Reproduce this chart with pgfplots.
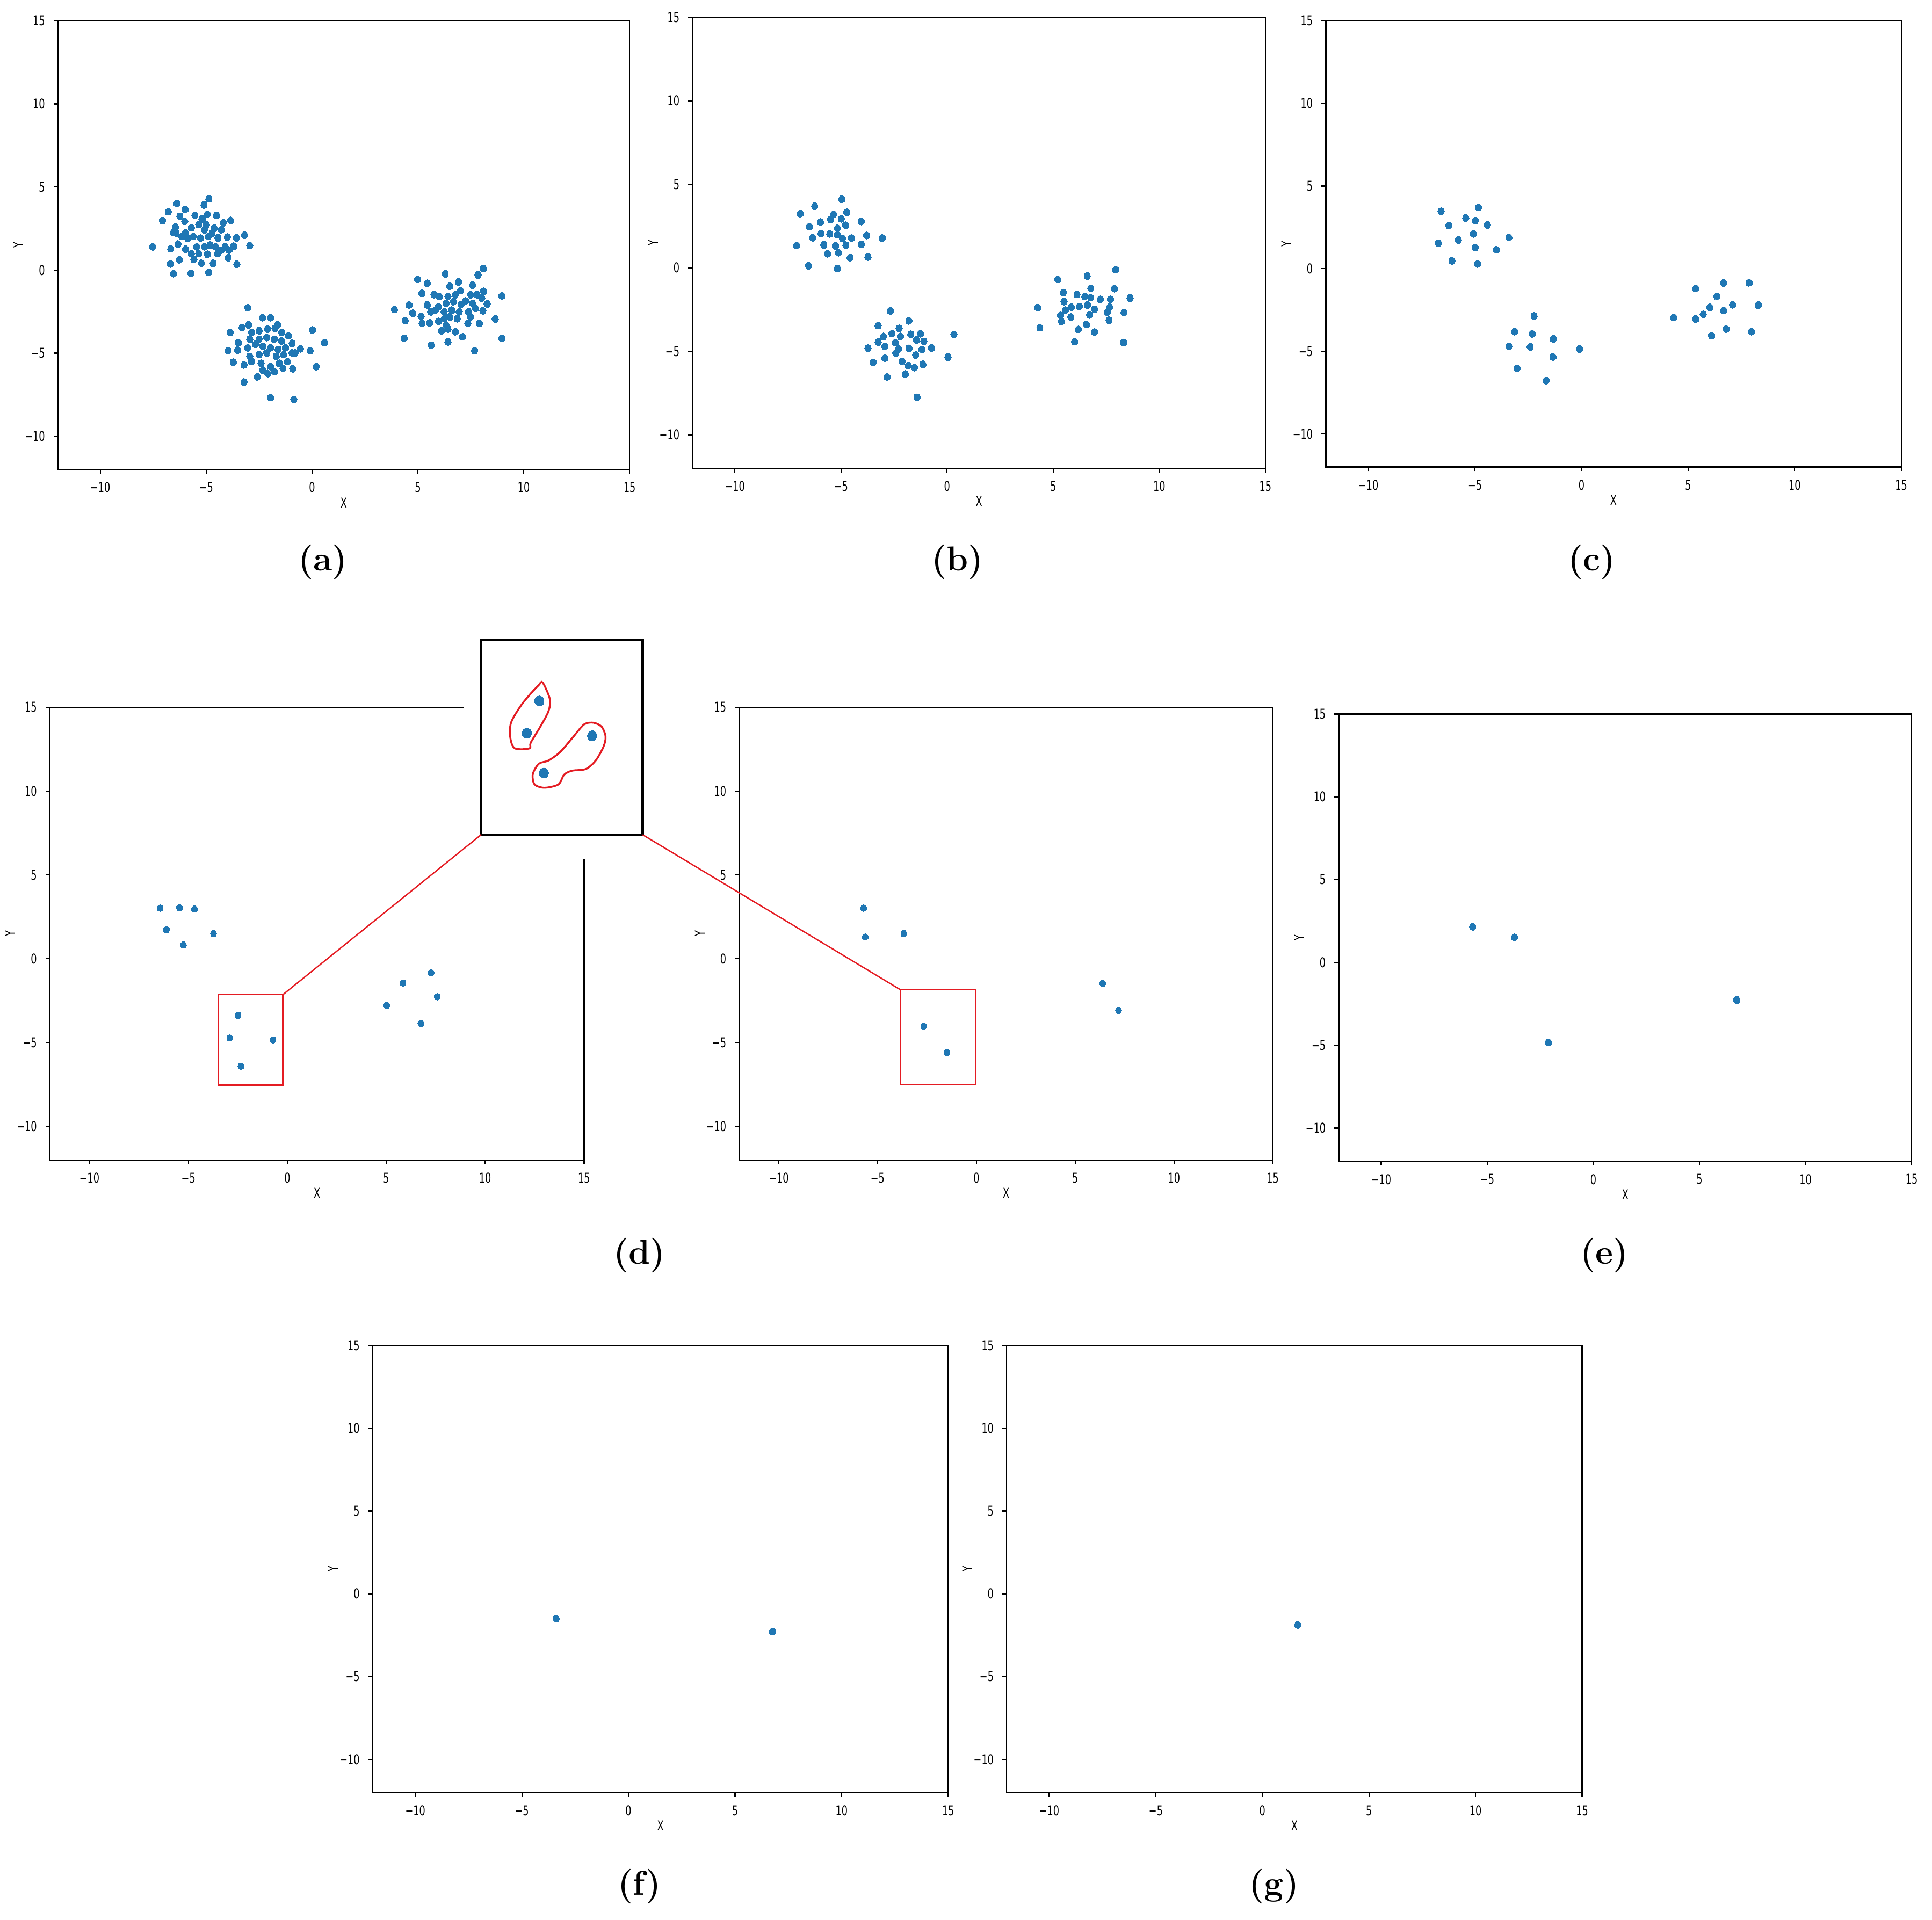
\documentclass[border=0pt]{standalone}
\usepackage{pgfplots}
\pgfplotsset{compat=1.18}
\usepackage{fontspec}
\newfontfamily\mpl[FakeStretch=0.7]{DejaVu Sans}
\definecolor{mplblue}{RGB}{31,119,180}
\definecolor{annot}{RGB}{228,28,35}

\pgfplotsset{
  panel/.style={
    scale only axis, anchor=south west,
    xmin=-12, xmax=15, ymin=-12, ymax=15,
    xtick={-10,-5,0,5,10,15}, xticklabels={−10,−5,0,5,10,15},
    ytick={-10,-5,0,5,10,15}, yticklabels={−10,−5,0,5,10,15},
    tick pos=left, tick align=outside, major tick length=1.75pt,
    axis line style={line width=0.5pt},
    every tick/.style={black, line width=0.5pt},
    tick label style={font=\mpl\fontsize{5.5}{6}\selectfont},
    xlabel={X}, ylabel={Y},
    every axis x label/.style={at={(axis description cs:0.5,0)}, yshift=-13.5pt,
      anchor=center, font=\mpl\fontsize{5.5}{6}\selectfont},
    every axis y label/.style={at={(axis description cs:0,0.5)}, xshift=-16pt,
      rotate=90, anchor=center, font=\mpl\fontsize{5.5}{6}\selectfont},
  },
  pts/.style={only marks, mark=*, mark size=1.45pt, color=mplblue,
    mark options={solid, draw=mplblue, fill=mplblue, line width=0pt, xscale=0.92}},
}
\tikzset{sub/.style={font=\fontsize{14}{16}\selectfont\bfseries}}

\begin{document}
\begin{tikzpicture}
\useasboundingbox (0,0) rectangle (784pt,779pt);

% (a)
\begin{axis}[panel, at={(23.5pt,588.5pt)}, width=232pt, height=182pt]
\addplot[pts] coordinates {
(-7.52,1.40) (-7.06,2.97) (-6.79,3.51) (-6.38,4.00) (-5.99,3.65) (-4.87,4.29)
(-5.10,3.92) (-4.51,3.30) (-3.85,2.99) (-3.19,2.10) (-2.94,1.48) (-3.57,1.94)
(-3.55,0.35) (-3.96,0.74) (-4.88,-0.14) (-5.72,-0.19) (-6.54,-0.21) (-6.68,0.37)
(-6.27,0.62) (-6.67,1.28) (-6.54,2.27) (-6.45,2.58) (-6.24,3.24) (-6.01,2.93)
(-5.53,3.30) (-5.20,3.09) (-4.94,3.36) (-4.19,2.85) (-4.28,2.43) (-4.62,2.52)
(-4.00,1.98) (-4.44,1.94) (-3.69,1.44) (-3.92,1.20) (-4.46,0.99) (-4.67,0.41)
(-5.22,0.41) (-5.58,0.64) (-5.97,1.26) (-6.33,1.57) (-5.97,2.23) (-5.70,2.54)
(-5.35,2.74) (-5.08,2.43) (-4.90,2.02) (-5.26,1.92) (-5.61,2.02) (-5.88,1.92)
(-5.44,1.40) (-5.08,1.40) (-4.81,1.51) (-5.35,0.99) (-4.94,0.95) (-4.55,1.40)
(-4.28,1.20) (-4.10,1.40) (-6.15,2.02) (-6.42,2.23) (-5.70,0.99) (-5.17,3.05)
(-4.99,2.74) (-4.72,2.23)
(-3.03,-2.27) (-2.34,-2.87) (-1.96,-2.87) (-2.99,-3.30) (-3.30,-3.46) (-3.87,-3.75)
(-1.62,-3.30) (0.02,-3.61) (0.59,-4.37) (-0.55,-4.74) (-0.09,-4.85) (0.20,-5.81)
(-0.91,-5.94) (-3.96,-4.85) (-3.72,-5.55) (-3.21,-6.74) (-2.58,-6.43) (-1.96,-7.67)
(-0.86,-7.79) (-3.48,-4.37) (-3.51,-4.82) (-3.21,-5.71) (-2.85,-5.51) (-2.41,-5.61)
(-2.09,-6.23) (-1.78,-6.12) (-1.37,-5.92) (-1.16,-5.51) (-0.94,-4.99) (-0.94,-4.41)
(-1.12,-3.96) (-1.43,-3.75) (-1.75,-3.51) (-2.10,-3.55) (-2.50,-3.65) (-2.85,-3.75)
(-2.94,-4.16) (-2.50,-4.16) (-2.14,-4.06) (-1.78,-4.16) (-1.43,-4.27) (-1.25,-4.68)
(-1.60,-4.78) (-1.96,-4.68) (-2.32,-4.58) (-2.67,-4.47) (-3.03,-4.68) (-2.94,-5.20)
(-2.50,-5.09) (-2.14,-4.99) (-1.69,-5.20) (-1.34,-5.09) (-1.96,-5.81) (-2.32,-6.02)
(-1.55,-5.61) (-0.80,-4.99)
(3.89,-2.37) (4.35,-4.10) (4.40,-3.05) (4.58,-2.10) (4.76,-2.60) (4.99,-0.56)
(5.44,-0.80) (5.19,-1.40) (5.63,-4.52) (5.15,-2.78) (5.20,-3.20) (5.56,-3.18)
(5.97,-3.09) (6.12,-3.65) (6.42,-4.33) (6.29,-0.23) (6.92,-0.72) (7.59,-0.91)
(7.84,-0.29) (8.09,0.10) (8.11,-1.28) (8.27,-2.04) (8.97,-1.55) (8.65,-2.95)
(8.97,-4.10) (7.68,-4.85) (7.11,-4.02) (7.90,-3.20) (7.36,-3.20) (6.77,-3.71)
(6.42,-3.55) (5.76,-1.48) (6.01,-1.59) (6.51,-0.97) (7.01,-1.24) (7.25,-1.86)
(7.49,-1.48) (7.79,-1.48) (8.02,-1.69) (8.07,-2.45) (7.72,-2.31) (7.40,-2.52)
(6.95,-2.52) (6.60,-2.41) (6.24,-2.52) (5.83,-2.41) (5.44,-2.10) (5.61,-2.52)
(5.97,-2.21) (6.33,-2.00) (6.68,-1.90) (6.42,-1.59) (6.77,-1.48) (7.04,-2.06)
(6.51,-2.82) (6.86,-2.93) (6.24,-2.93) (7.49,-2.82) (6.33,-3.34) (7.58,-2.00)
};
\end{axis}

% (b)
\begin{axis}[panel, at={(281pt,589pt)}, width=232.5pt, height=183pt]
\addplot[pts] coordinates {
(-7.09,1.33) (-6.92,3.24) (-6.24,3.69) (-6.49,2.46) (-6.33,1.80) (-5.97,2.73)
(-5.94,2.05) (-5.81,1.37) (-5.64,0.84) (-6.53,0.12) (-5.53,2.03) (-5.49,2.89)
(-5.35,3.20) (-5.17,2.36) (-5.17,1.97) (-5.26,1.31) (-5.12,0.90) (-5.17,-0.04)
(-4.99,2.93) (-4.96,4.10) (-4.73,3.32) (-4.78,2.54) (-4.93,1.76) (-4.77,1.35)
(-4.50,1.78) (-4.57,0.61) (-4.05,2.77) (-4.04,1.41) (-3.79,1.93) (-3.73,0.64)
(-3.06,1.78)
(-2.68,-2.58) (-3.25,-3.46) (-1.80,-3.18) (-2.26,-3.63) (-2.60,-3.95) (-3.00,-4.12)
(-3.25,-4.45) (-3.73,-4.82) (-2.93,-4.71) (-2.44,-4.49) (-2.20,-4.12) (-1.71,-3.98)
(-1.44,-4.32) (-1.26,-3.95) (-1.10,-4.41) (-0.73,-4.80) (-1.19,-4.90) (-1.48,-5.23)
(-1.80,-4.82) (-2.29,-4.86) (-2.42,-5.12) (-2.93,-5.41) (-3.49,-5.66) (-2.12,-5.61)
(-1.83,-5.86) (-1.53,-5.98) (-1.14,-5.78) (-1.97,-6.37) (-2.83,-6.54) (-1.42,-7.75)
(0.04,-5.35) (0.32,-4.00)
(4.27,-2.38) (4.37,-3.59) (5.21,-0.70) (5.48,-1.48) (5.51,-2.03) (5.57,-2.54)
(5.35,-2.85) (5.39,-3.22) (5.85,-2.36) (5.83,-2.95) (6.12,-1.60) (6.23,-2.32)
(6.01,-4.43) (6.19,-3.69) (6.56,-3.40) (6.72,-2.83) (6.61,-2.23) (6.49,-1.72)
(6.60,-0.49) (6.77,-1.23) (6.76,-1.78) (6.95,-2.48) (6.95,-3.85) (7.22,-1.89)
(7.54,-2.68) (7.63,-3.14) (7.66,-2.36) (7.70,-1.89) (7.88,-1.25) (7.95,-0.12)
(8.34,-2.68) (8.32,-4.47) (8.62,-1.82)
};
\end{axis}

% (c)
\begin{axis}[panel, at={(538pt,589.5pt)}, width=233.5pt, height=181pt]
\addplot[pts] coordinates {
(-6.59,3.48) (-6.22,2.61) (-6.72,1.55) (-5.78,1.74) (-6.08,0.48) (-5.43,3.07)
(-4.99,2.90) (-4.84,3.71) (-5.08,2.11) (-4.99,1.28) (-4.88,0.29) (-4.42,2.65)
(-4.00,1.14) (-3.41,1.89)
(-2.23,-2.86) (-3.13,-3.81) (-2.32,-3.94) (-1.33,-4.25) (-3.41,-4.70) (-2.41,-4.74)
(-0.09,-4.87) (-1.34,-5.34) (-3.02,-6.03) (-1.66,-6.77)
(4.33,-2.96) (5.36,-1.20) (5.36,-3.05) (5.71,-2.76) (6.02,-2.34) (6.35,-1.68)
(6.67,-0.87) (6.67,-2.53) (7.09,-2.18) (6.10,-4.06) (6.78,-3.65) (7.86,-0.85)
(7.97,-3.81) (8.29,-2.20)
};
\end{axis}

% (d) left
\begin{axis}[panel, at={(20.25pt,308.25pt)}, width=216.75pt, height=183.75pt]
\addplot[pts, mark size=1.35pt] coordinates {
(-6.43,3.02) (-5.45,3.04) (-4.69,2.96) (-6.11,1.73) (-5.25,0.82) (-3.73,1.49)
(-2.49,-3.37) (-2.91,-4.73) (-0.72,-4.84) (-2.34,-6.41)
(5.03,-2.78) (5.85,-1.45) (7.27,-0.84) (7.58,-2.27) (6.75,-3.86)
};
\draw[annot, line width=0.55pt] (axis cs:-3.5,-7.54) rectangle (axis cs:-0.23,-2.15);
\coordinate (dlc) at (axis cs:-0.23,-2.15);
\end{axis}
\fill[white] (188pt,430.5pt) rectangle (239pt,497pt);

% (d) right
\begin{axis}[panel, at={(300pt,308.25pt)}, width=216.5pt, height=183.75pt]
\addplot[pts, mark size=1.35pt] coordinates {
(-5.71,3.02) (-5.63,1.29) (-3.67,1.49) (-2.67,-4.02) (-1.50,-5.59)
(6.39,-1.47) (7.19,-3.08)
};
\draw[annot, line width=0.55pt] (axis cs:-3.83,-7.53) rectangle (axis cs:-0.04,-1.86);
\coordinate (drc) at (axis cs:-3.83,-1.86);
\end{axis}

% inset
\begin{axis}[scale only axis, anchor=south west, at={(195.25pt,440.25pt)},
  width=65.5pt, height=79pt, xmin=-4.44, xmax=0.97, ymin=-9.01, ymax=-0.80,
  xtick=\empty, ytick=\empty, axis line style={line width=1pt, black},
  axis background/.style={fill=white}]
\addplot[pts, mark size=2.1pt] coordinates {
(-2.49,-3.37) (-2.91,-4.73) (-0.72,-4.84) (-2.34,-6.41)
};
\draw[annot, line width=0.75pt] plot[smooth cycle, tension=0.5] coordinates {
(-2.38,-2.59) (-2.14,-3.28) (-2.18,-3.79) (-2.45,-4.44) (-2.78,-5.13) (-2.82,-5.37)
(-3.31,-5.37) (-3.46,-4.94) (-3.44,-4.29) (-3.11,-3.57) (-2.78,-3.06) (-2.51,-2.70)
};
\draw[annot, line width=0.75pt] plot[smooth cycle, tension=0.5] coordinates {
(-0.67,-4.29) (-0.40,-4.46) (-0.27,-4.87) (-0.34,-5.30) (-0.60,-5.88) (-0.93,-6.24)
(-1.39,-6.31) (-1.66,-6.48) (-1.85,-6.89) (-2.32,-7.03) (-2.65,-6.89) (-2.71,-6.46)
(-2.51,-6.02) (-2.18,-5.88) (-1.79,-5.52) (-1.39,-4.94) (-0.99,-4.36)
};
\coordinate (ibl) at (rel axis cs:0,0);
\coordinate (ibr) at (rel axis cs:1,0);
\end{axis}
\draw[annot, line width=0.55pt] (dlc) -- (ibl);
\draw[annot, line width=0.55pt] (ibr) -- (drc);

% (e)
\begin{axis}[panel, at={(543.25pt,307.75pt)}, width=232.5pt, height=181.5pt]
\addplot[pts] coordinates {
(-5.69,2.15) (-3.72,1.51) (-2.12,-4.83) (6.76,-2.27)
};
\end{axis}

% (f)
\begin{axis}[panel, at={(151.25pt,51.5pt)}, width=233.5pt, height=181.5pt]
\addplot[pts] coordinates {
(-3.40,-1.50) (6.76,-2.28)
};
\end{axis}

% (g)
\begin{axis}[panel, at={(408.5pt,51.5pt)}, width=233.5pt, height=181.5pt]
\addplot[pts] coordinates {
(1.66,-1.88)
};
\end{axis}

\node[sub] at (131pt,551pt) {(a)};
\node[sub] at (388.5pt,551pt) {(b)};
\node[sub] at (646pt,551pt) {(c)};
\node[sub] at (259.5pt,269.5pt) {(d)};
\node[sub] at (651pt,269.5pt) {(e)};
\node[sub] at (259.5pt,13.5pt) {(f)};
\node[sub] at (517pt,13.5pt) {(g)};
\end{tikzpicture}
\end{document}
